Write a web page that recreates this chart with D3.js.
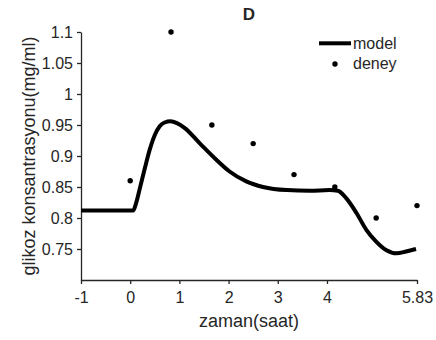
<!DOCTYPE html>
<html>
<head>
<meta charset="utf-8">
<script src="https://cdn.jsdelivr.net/npm/d3@7"></script>
<style>
  html, body { margin: 0; padding: 0; background: #fff; }
  svg { display: block; }
  text { font-family: "Liberation Sans", Arial, Helvetica, sans-serif; fill: #262626; }
</style>
</head>
<body>
<svg id="chart" width="436" height="340"></svg>
<script>
// Measured glucose samples (deney)
const sampleTime = [0, 0.83, 1.66, 2.5, 3.33, 4.16, 5.0, 5.83];
const sampleGlucose = [0.86, 1.1, 0.95, 0.92, 0.87, 0.85, 0.80, 0.82];

// Model response curve
const modelTime = [-1, -0.5, 0.06, 0.12, 0.2, 0.3, 0.4, 0.5, 0.6, 0.7, 0.82, 0.95, 1.11,
  1.42, 1.75, 2.02, 2.36, 2.70, 3.18, 3.65, 4.05, 4.22, 4.39, 4.60, 4.80, 5.00, 5.21,
  5.41, 5.61, 5.81];
const modelGlucose = [0.812, 0.812, 0.812, 0.824, 0.849, 0.881, 0.911, 0.934, 0.948, 0.954,
  0.956, 0.953, 0.945, 0.920, 0.894, 0.875, 0.859, 0.850, 0.845, 0.844, 0.845, 0.844,
  0.832, 0.808, 0.781, 0.762, 0.748, 0.743, 0.746, 0.750];

// Axis ticks
const xTicks = [-1, 0, 1, 2, 3, 4, 5.83];
const xTickLabels = ["-1", "0", "1", "2", "3", "4", "5.83"];
const yTicks = [0.75, 0.8, 0.85, 0.9, 0.95, 1, 1.05, 1.1];
const yTickLabels = ["0.75", "0.8", "0.85", "0.9", "0.95", "1", "1.05", "1.1"];

const svg = d3.select("#chart");
const ink = "#262626";

const x = d3.scaleLinear().domain([-1, 5.83]).range([81, 417]);
const y = d3.scaleLinear().domain([0.70, 1.1]).range([280, 32]);

// X axis
const xAxis = d3.axisBottom(x)
  .tickValues(xTicks)
  .tickFormat((d, i) => xTickLabels[i])
  .tickSizeInner(4).tickSizeOuter(0).tickPadding(8);
const gx = svg.append("g").attr("transform", "translate(0,280)").call(xAxis);

// Y axis
const yAxis = d3.axisLeft(y)
  .tickValues(yTicks)
  .tickFormat((d, i) => yTickLabels[i])
  .tickSizeInner(4).tickSizeOuter(0).tickPadding(4);
const gy = svg.append("g").attr("transform", "translate(81,0)").call(yAxis);

[gx, gy].forEach(g => {
  g.select(".domain").attr("stroke", ink).attr("stroke-width", 1.3);
  g.selectAll(".tick line").attr("stroke", ink).attr("stroke-width", 1.3);
  g.selectAll(".tick text")
    .attr("fill", ink)
    .style("font-family", '"Liberation Sans", Arial, sans-serif')
    .style("font-size", "16px");
});

// Model line
const line = d3.line()
  .x((d, i) => x(modelTime[i]))
  .y((d, i) => y(modelGlucose[i]))
  .curve(d3.curveMonotoneX);

svg.append("path")
  .datum(modelGlucose)
  .attr("d", line)
  .attr("fill", "none")
  .attr("stroke", "#000")
  .attr("stroke-width", 4)
  .attr("stroke-linejoin", "round");

// Measured points
svg.append("g").selectAll("circle")
  .data(sampleGlucose)
  .join("circle")
  .attr("cx", (d, i) => x(sampleTime[i]))
  .attr("cy", d => y(d))
  .attr("r", 2.7)
  .attr("fill", "#000");

// Title
svg.append("text")
  .attr("x", 249).attr("y", 20)
  .attr("text-anchor", "middle")
  .style("font-size", "17px")
  .style("font-weight", "bold")
  .attr("fill", "#000")
  .text("D");

// Axis labels
svg.append("text")
  .attr("x", 249).attr("y", 327)
  .attr("text-anchor", "middle")
  .style("font-size", "18px")
  .text("zaman(saat)");

svg.append("text")
  .attr("transform", "translate(35,156) rotate(-90)")
  .attr("text-anchor", "middle")
  .style("font-size", "18px")
  .text("glikoz konsantrasyonu(mg/ml)");

// Legend
const legend = svg.append("g");
legend.append("line")
  .attr("x1", 319).attr("x2", 351)
  .attr("y1", 43.3).attr("y2", 43.3)
  .attr("stroke", "#000").attr("stroke-width", 4);
legend.append("text")
  .attr("x", 353).attr("y", 48.5)
  .style("font-size", "16px")
  .text("model");
legend.append("circle")
  .attr("cx", 335).attr("cy", 64).attr("r", 2.7)
  .attr("fill", "#000");
legend.append("text")
  .attr("x", 353).attr("y", 68.5)
  .style("font-size", "16px")
  .text("deney");
</script>
</body>
</html>
